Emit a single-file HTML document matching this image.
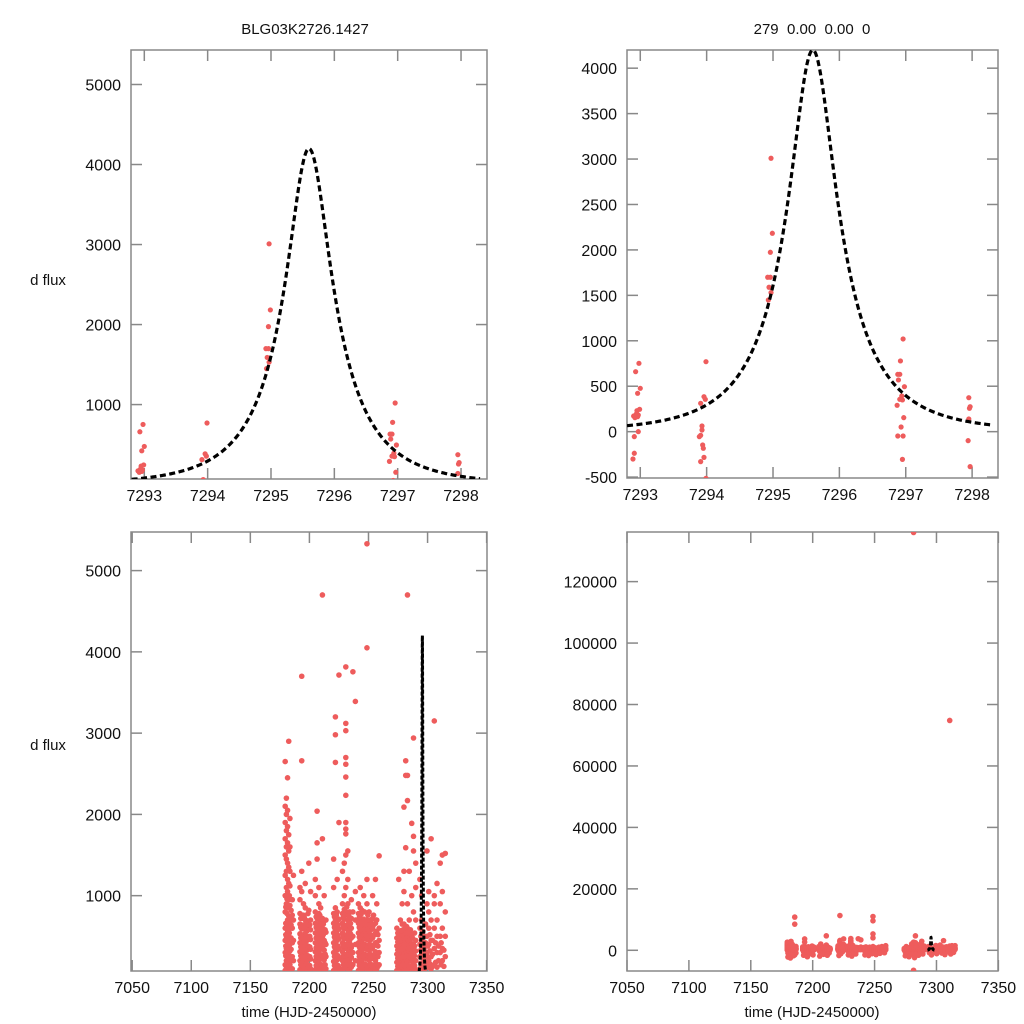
<!DOCTYPE html>
<html><head><meta charset="utf-8"><style>
html,body{margin:0;padding:0;background:#fff;width:1024px;height:1024px;overflow:hidden}
svg{display:block}
text{font-family:"Liberation Sans",sans-serif;fill:#111}
</style></head><body>
<svg id="chart" width="1024" height="1024" viewBox="0 0 1024 1024" xmlns="http://www.w3.org/2000/svg">
<text x="305" y="34" font-size="15" text-anchor="middle">BLG03K2726.1427</text>
<text x="812" y="34" font-size="15" text-anchor="middle" xml:space="preserve">279  0.00  0.00  0</text>
<text x="48" y="285" font-size="15" text-anchor="middle">d flux</text>
<text x="48" y="750" font-size="15" text-anchor="middle">d flux</text>
<text x="309" y="1017" font-size="15" text-anchor="middle">time (HJD-2450000)</text>
<text x="812" y="1017" font-size="15" text-anchor="middle">time (HJD-2450000)</text>
</svg>
<script>
// zoomed data (top panels)
const zoomTimes=[7292.89,7292.91,7292.91,7292.97,7292.93,7292.98,7293.0,7292.96,7292.99,7292.95,7292.9,7292.92,7292.97,7292.94,7292.96,
7293.91,7293.96,7293.98,7293.99,7293.93,7293.93,7293.91,7293.89,7293.94,7293.95,7293.96,7293.91,7293.99,
7294.97,7294.99,7294.96,7294.92,7294.96,7294.94,7294.97,7294.93,
7296.96,7296.92,7296.88,7296.91,7296.89,7296.98,7296.87,7296.91,7296.94,7296.95,7296.97,7296.93,7296.88,7296.96,7296.95,
7297.95,7297.97,7297.96,7297.95,7297.94,7297.97];
const zoomFlux=[-301,-238,-55,0,660,752,477,422,246,231,172,154,183,194,165,
312,385,356,770,62,18,-40,-55,-147,-183,-283,-330,-514,
3009,2183,1974,1699,1699,1589,1530,1449,
1020,778,631,631,569,495,290,356,393,349,154,51,-48,-48,-305,
374,275,257,139,-99,-385];
// full season data: [time, [flux values]]
const seasonNights=[
[7179.5,[80,150,300,450,600,800,1000,1250,1500,1700,1900,2100,2650]],
[7180.5,[100,200,350,500,650,900,1100,1300,1450,1600,1800,2000,2200,-300,-800]],
[7181.5,[90,250,400,550,700,850,1050,1200,1400,1650,1850,2050,2450]],
[7182.5,[120,280,420,580,750,950,1150,1350,1550,1750,2900,-500]],
[7183.5,[150,320,480,680,880,1120,1300,1600,1950]],
[7185.5,[100,250,420,600,760,950,10800,8500,-1500]],
[7186.5,[200,450,700,1250,-900]],
[7192.0,[90,200,310,420,530,650,780,950,1100]],
[7193.5,[110,230,350,470,590,720,3700,2660,1050,1300,-400]],
[7195.0,[80,190,300,410,520,640,760,900]],
[7196.5,[100,220,340,460,580,700,850,1150]],
[7198.0,[90,210,330,450,570,690]],
[7199.5,[120,240,360,480,600,820,1400,-700]],
[7201.0,[100,220,340,460,580,700,1050]],
[7205.0,[90,200,310,420,540,660,800,1000,1200]],
[7206.5,[110,230,350,470,590,720,2040,1450,1650]],
[7208.0,[80,190,300,420,540,660,780,900,1100]],
[7209.5,[100,220,340,460,580,700,850]],
[7211.0,[120,240,360,480,600,720,4700,1700,-1200]],
[7212.5,[90,210,330,450,570,690,1000]],
[7214.0,[100,250,400,550,700]],
[7220.5,[80,190,300,420,540,660,780,1100,1450]],
[7222.0,[100,220,340,460,580,700,850,3200,2980,2640,11300,-600]],
[7223.5,[90,210,330,450,570,690,800,1200]],
[7225.0,[110,230,350,470,590,710,3715,1900]],
[7228.0,[90,200,310,420,540,660,780,900,1300]],
[7229.5,[110,230,350,470,590,710,830,1000,1400]],
[7230.8,[3815,3120,3030,2700,2617,2460,2235,1900,1820,1760,1500,1100,800,600,400,200,-500]],
[7232.5,[100,220,340,460,580,700,900,1200,1550]],
[7234.0,[90,210,330,450,570,700,800]],
[7235.5,[120,240,360,480,600,720,950]],
[7236.8,[3755,800,500,300,150]],
[7238.9,[3390,1050,700,400,200]],
[7241.5,[80,190,300,420,540,660,780,900]],
[7243.0,[100,220,340,460,580,700,850,1100]],
[7244.5,[90,210,330,450,570,690,820]],
[7246.0,[110,230,350,470,590,710,1000]],
[7248.7,[5330,4050,100,220,340,460,580,700,900,1200,11000,9600]],
[7250.5,[90,210,330,450,570,690,800]],
[7252.0,[100,220,340,460,580,700]],
[7253.5,[120,240,360,480,600,720,1000]],
[7255.9,[90,200,310,420,540,660,1200]],
[7257.0,[100,250,400,550,700,900]],
[7259.0,[150,300,450,600,1490]],
[7274.0,[80,180,280,380,480,600]],
[7275.6,[100,200,300,400,500,1200,-500]],
[7277.0,[90,190,290,390,490,700]],
[7278.5,[110,210,310,410,520,650,900]],
[7280.0,[100,200,300,400,500,650,2090,1300,1050]],
[7281.5,[120,220,320,420,540,2660,2480,1590,136000,-6500]],
[7283.0,[90,190,290,390,490,600,2170,2480,900,4700]],
[7284.5,[100,200,300,400,500,700,1300]],
[7286.6,[110,210,310,410,520,1890,1000]],
[7288.1,[2940,1730,1550,800,400,200,100]],
[7290.0,[90,200,320,450,700,1100,1400]],
[7293.5,[100,250,400,600,1200]],
[7295.0,[150,300,450,700,1000]],
[7297.0,[80,200,350,500]],
[7299.5,[1550,900,500,300,150]],
[7301.0,[1050,800,600,400,200]],
[7303.0,[1700,700,450,250,100]],
[7305.7,[3150,1000,900,600,350,150]],
[7308.0,[1150,700,500,300,120]],
[7310.7,[74800,1400,900,500,300]],
[7312.5,[1500,1050,600,350,200]],
[7315.0,[1520,800,500,250]]
];
// additional dense low-level nights
const denseNights=[
[7180.0,[-2200,-900,140,260,380,520,660,860]],
[7181.0,[-1400,-300,60,170,330,470,610,780,960]],
[7182.0,[-2500,-600,110,220,360,510,680,880]],
[7183.0,[-1000,130,240,390,540,720,1000]],
[7184.5,[-1800,-400,80,200,340,480,640,820]],
[7192.7,[-1600,-500,150,260,370,480,610,720]],
[7194.2,[-900,140,250,360,490,620,760]],
[7195.7,[-2100,-300,130,240,350,460,600,730]],
[7197.2,[-1200,160,270,390,510,640]],
[7198.8,[-700,150,260,380,500,640,780]],
[7200.3,[-1500,140,250,370,500,640]],
[7205.7,[-1900,-400,140,250,360,480,610,740]],
[7207.2,[-800,150,260,380,510,650]],
[7208.8,[-1300,130,240,370,500,630,760]],
[7210.2,[-600,150,270,400,520,650]],
[7211.8,[-1600,140,260,390,520,650]],
[7213.3,[-900,150,280,420,580]],
[7221.2,[-1700,-500,140,250,370,490,610,740]],
[7222.8,[-1100,150,270,390,510,630,760]],
[7224.3,[-400,140,260,380,510,640]],
[7228.8,[-1500,-300,150,260,380,500,620,740]],
[7230.2,[-800,140,260,380,500,620,760]],
[7231.6,[-1900,160,280,400,520,640,860]],
[7233.3,[-600,150,270,390,510,640,760]],
[7234.8,[-1200,160,280,400,530,660]],
[7242.2,[-1500,-300,140,250,370,490,610,730]],
[7243.7,[-800,150,270,390,510,640,770]],
[7245.2,[-1700,-500,140,260,390,520,650]],
[7246.8,[-400,160,280,400,530,660,800]],
[7248.0,[-1100,150,270,390,520,640]],
[7249.5,[-900,140,260,380,500,630,760]],
[7251.2,[-1400,160,280,400,520,640]],
[7252.8,[-600,150,270,390,510,650]],
[7254.3,[-1000,140,260,380,510,640,760]],
[7256.5,[-300,160,290,420,560,700]],
[7258.0,[-800,130,250,380,520]],
[7274.8,[-1800,-600,130,230,330,430,540]],
[7276.3,[-900,140,240,340,450,560]],
[7277.8,[-2100,-400,130,240,340,450,570]],
[7279.3,[-700,150,250,350,460,580]],
[7280.8,[-1300,-300,140,250,360,470,600]],
[7282.3,[-2400,-800,150,260,370,480,620]],
[7283.8,[-1000,140,250,350,450,560]],
[7285.5,[-1600,130,240,350,460,580]],
[7287.3,[-500,150,260,370,480]],
[7289.0,[-1200,140,260,380,540]],
[7294.3,[-800,170,330,500]],
[7296.0,[-1500,120,250,380,560]],
[7298.3,[-600,130,260,420,650]],
[7300.2,[-1100,120,250,380]],
[7302.0,[-300,160,320,520]],
[7304.3,[-900,130,280,450]],
[7306.8,[-1400,180,420]],
[7309.3,[-500,200,380]],
[7311.5,[-1200,150,420]],
[7313.8,[-700,130,330]]
];
// model parameters: t0, u0, tE, source flux
const modelParams=[7295.6,0.3,1.21,1718];
const modelRange=[7292.8,7298.3];
const topLeftYTicks=[1000,2000,3000,4000,5000];
const topRightYTicks=[-500,0,500,1000,1500,2000,2500,3000,3500,4000];
const zoomXTicks=[7293,7294,7295,7296,7297,7298];
const bottomLeftYTicks=[1000,2000,3000,4000,5000];
const bottomRightYTicks=[0,20000,40000,60000,80000,100000,120000];
const seasonXTicks=[7050,7100,7150,7200,7250,7300,7350];

const NS="http://www.w3.org/2000/svg";
const svg=document.getElementById('chart');
function mk(tag,attrs,parent){const e=document.createElementNS(NS,tag);for(const k in attrs)e.setAttribute(k,attrs[k]);(parent||svg).appendChild(e);return e;}
function model(t){const [t0,u0,tE,fs]=modelParams;const x=(t-t0)/tE;const u=Math.sqrt(u0*u0+x*x);const A=(u*u+2)/(u*Math.sqrt(u*u+4));return fs*(A-1);}

const panels=[
 {id:'top-left',L:131,R:487,T:50,B:479,x0:7292.79,x1:7298.41,y0:70,y1:5431,yt:topLeftYTicks,xt:zoomXTicks,zoom:true},
 {id:'top-right',L:627,R:998,T:50,B:478,x0:7292.8,x1:7298.39,y0:-510,y1:4200,yt:topRightYTicks,xt:zoomXTicks,zoom:true},
 {id:'bottom-left',L:131,R:487,T:532,B:971,x0:7049,x1:7350.3,y0:73,y1:5475,yt:bottomLeftYTicks,xt:seasonXTicks,zoom:false},
 {id:'bottom-right',L:627,R:998,T:532,B:971,x0:7050,x1:7349.7,y0:-6740,y1:136150,yt:bottomRightYTicks,xt:seasonXTicks,zoom:false}
];
panels.forEach((p,i)=>{
 const sx=t=>p.L+(t-p.x0)/(p.x1-p.x0)*(p.R-p.L);
 const sy=v=>p.B-(v-p.y0)/(p.y1-p.y0)*(p.B-p.T);
 const g=mk('g',{});
 
 
 const cp=mk('clipPath',{id:'clip'+i},g);
 mk('rect',{x:p.L,y:p.T,width:p.R-p.L,height:p.B-p.T},cp);
 const frame=mk('rect',{x:p.L,y:p.T,width:p.R-p.L,height:p.B-p.T,fill:'none',stroke:'#888','stroke-width':1.5},g);
 
 
 p.yt.forEach(v=>{const y=sy(v);
  mk('line',{x1:p.L,x2:p.L+11,y1:y,y2:y,stroke:'#888','stroke-width':1.5},g);
  mk('line',{x1:p.R-11,x2:p.R,y1:y,y2:y,stroke:'#888','stroke-width':1.5},g);
  const t=mk('text',{x:p.L-10,y:y+6,'font-size':16,'text-anchor':'end'},g);t.textContent=v;
  
  
 });
 p.xt.forEach(v=>{const x=sx(v);
  mk('line',{x1:x,x2:x,y1:p.T,y2:p.T+11,stroke:'#888','stroke-width':1.5},g);
  mk('line',{x1:x,x2:x,y1:p.B-11,y2:p.B,stroke:'#888','stroke-width':1.5},g);
  const t=mk('text',{x:x,y:p.B+22,'font-size':16,'text-anchor':'middle'},g);t.textContent=v;
  
  
 });
 const dots=mk('g',{'clip-path':'url(#clip'+i+')',fill:'#ee5c5c'},g);
 
 
 if(p.zoom){
  zoomTimes.forEach((t,k)=>{mk('circle',{cx:sx(t),cy:sy(zoomFlux[k]),r:2.6},dots);});
 } else {
  seasonNights.concat(denseNights).forEach(n=>{n[1].forEach(v=>{mk('circle',{cx:sx(n[0]),cy:sy(v),r:2.8},dots);});});
 }
 let d='';
 for(let k=0;k<=300;k++){const t=modelRange[0]+(modelRange[1]-modelRange[0])*k/300;d+=(k?'L':'M')+sx(t).toFixed(2)+','+sy(model(t)).toFixed(2);}
 const path=mk('path',{d:d,fill:'none',stroke:'#000','stroke-width':p.zoom?3.2:3,'stroke-dasharray':p.zoom?'6,3.5':'4,2','clip-path':'url(#clip'+i+')'},g);
 
 
});
</script>
</body></html>
